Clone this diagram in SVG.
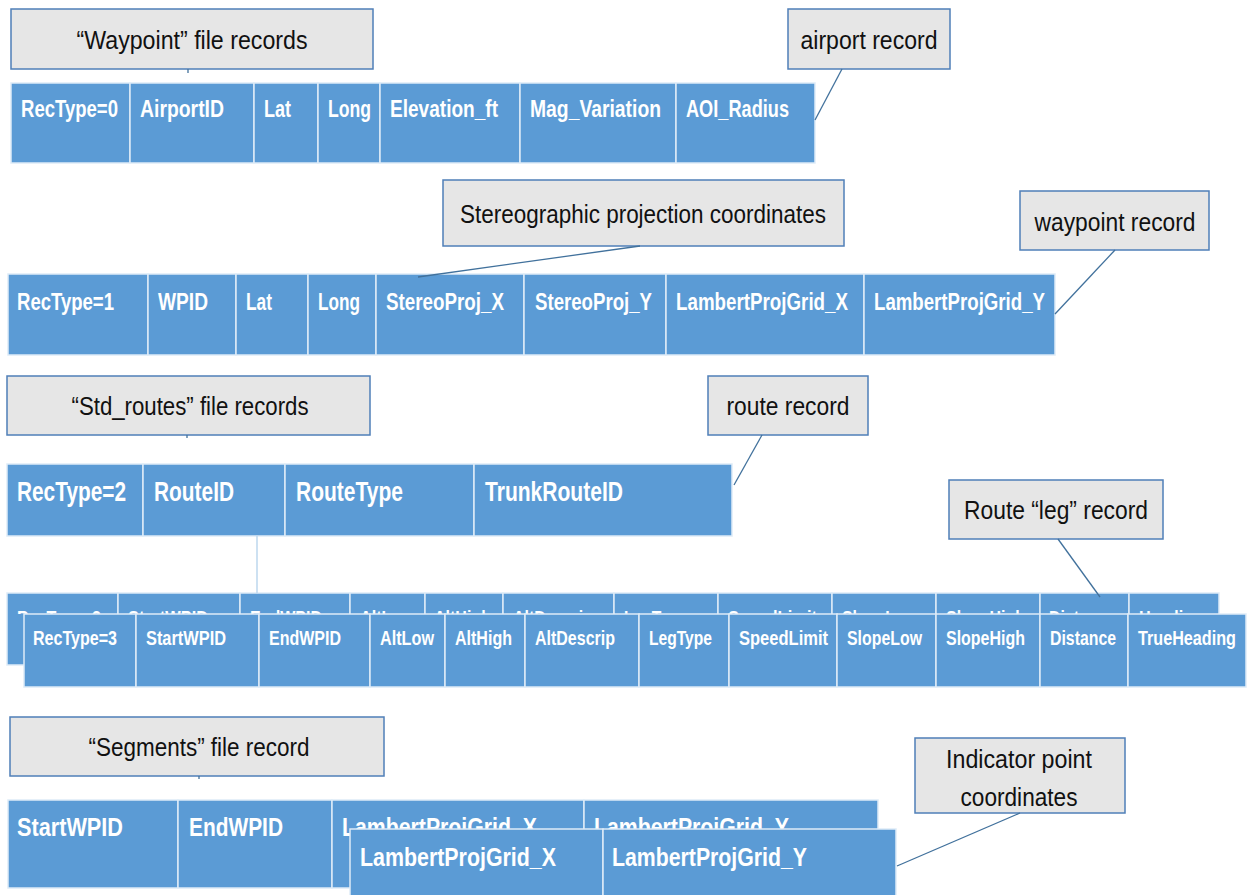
<svg xmlns="http://www.w3.org/2000/svg" width="1247" height="895" viewBox="0 0 1247 895">
  <style>
    .cell { fill: #5b9bd5; stroke: #deebf7; stroke-width: 1.5; }
    .ct { font-family: "Liberation Sans", Arial, sans-serif; font-weight: bold; fill: #ffffff; }
    .r1 { font-size: 24px; }
    .r3 { font-size: 28px; }
    .r4 { font-size: 21px; }
    .r5 { font-size: 26px; }
    .note { fill: #e6e6e6; stroke: #4f7fb8; stroke-width: 1.5; }
    .nt { font-family: "Liberation Sans", Arial, sans-serif; font-size: 26px; fill: #111111; text-anchor: middle; }
    .lead { stroke: #41719c; stroke-width: 1.3; fill: none; }
  </style>
  <defs>
    <!-- the rear leg row only shows the strip above the front row -->
    <clipPath id="legBackClip"><rect x="0" y="590" width="1247" height="24"/></clipPath>
  </defs>

  <!-- Waypoint file: airport record (RecType=0) -->
  <g id="rec-airport">
    <rect class="cell" x="11" y="83" width="119" height="80"/>
    <rect class="cell" x="130" y="83" width="124" height="80"/>
    <rect class="cell" x="254" y="83" width="64" height="80"/>
    <rect class="cell" x="318" y="83" width="62" height="80"/>
    <rect class="cell" x="380" y="83" width="140" height="80"/>
    <rect class="cell" x="520" y="83" width="156" height="80"/>
    <rect class="cell" x="676" y="83" width="139" height="80"/>
    <g class="ct r1">
      <text x="21" y="117" textLength="97" lengthAdjust="spacingAndGlyphs">RecType=0</text>
      <text x="140" y="117" textLength="84" lengthAdjust="spacingAndGlyphs">AirportID</text>
      <text x="264" y="117" textLength="27" lengthAdjust="spacingAndGlyphs">Lat</text>
      <text x="328" y="117" textLength="43" lengthAdjust="spacingAndGlyphs">Long</text>
      <text x="390" y="117" textLength="108" lengthAdjust="spacingAndGlyphs">Elevation_ft</text>
      <text x="530" y="117" textLength="131" lengthAdjust="spacingAndGlyphs">Mag_Variation</text>
      <text x="686" y="117" textLength="103" lengthAdjust="spacingAndGlyphs">AOI_Radius</text>
    </g>
  </g>

  <!-- Waypoint file: waypoint record (RecType=1) -->
  <g id="rec-waypoint">
    <rect class="cell" x="8" y="274" width="140" height="81"/>
    <rect class="cell" x="148" y="274" width="88" height="81"/>
    <rect class="cell" x="236" y="274" width="72" height="81"/>
    <rect class="cell" x="308" y="274" width="68" height="81"/>
    <rect class="cell" x="376" y="274" width="148" height="81"/>
    <rect class="cell" x="524" y="274" width="142" height="81"/>
    <rect class="cell" x="666" y="274" width="198" height="81"/>
    <rect class="cell" x="864" y="274" width="191" height="81"/>
    <g class="ct r1">
      <text x="17" y="310" textLength="97" lengthAdjust="spacingAndGlyphs">RecType=1</text>
      <text x="158" y="310" textLength="50" lengthAdjust="spacingAndGlyphs">WPID</text>
      <text x="246" y="310" textLength="26" lengthAdjust="spacingAndGlyphs">Lat</text>
      <text x="318" y="310" textLength="42" lengthAdjust="spacingAndGlyphs">Long</text>
      <text x="386" y="310" textLength="118" lengthAdjust="spacingAndGlyphs">StereoProj_X</text>
      <text x="535" y="310" textLength="117" lengthAdjust="spacingAndGlyphs">StereoProj_Y</text>
      <text x="676" y="310" textLength="172" lengthAdjust="spacingAndGlyphs">LambertProjGrid_X</text>
      <text x="874" y="310" textLength="171" lengthAdjust="spacingAndGlyphs">LambertProjGrid_Y</text>
    </g>
  </g>

  <!-- Std_routes file: route record (RecType=2) -->
  <g id="rec-route">
    <rect class="cell" x="7" y="464" width="136" height="72"/>
    <rect class="cell" x="143" y="464" width="142" height="72"/>
    <rect class="cell" x="285" y="464" width="189" height="72"/>
    <rect class="cell" x="474" y="464" width="258" height="72"/>
    <g class="ct r3">
      <text x="17" y="501" textLength="109" lengthAdjust="spacingAndGlyphs">RecType=2</text>
      <text x="154" y="501" textLength="80" lengthAdjust="spacingAndGlyphs">RouteID</text>
      <text x="296" y="501" textLength="107" lengthAdjust="spacingAndGlyphs">RouteType</text>
      <text x="485" y="501" textLength="138" lengthAdjust="spacingAndGlyphs">TrunkRouteID</text>
    </g>
  </g>

  <!-- Std_routes file: leg record, rear copy -->
  <g id="rec-leg-back">
    <rect class="cell" x="7" y="593" width="111" height="72"/>
    <rect class="cell" x="118" y="593" width="122" height="72"/>
    <rect class="cell" x="240" y="593" width="110" height="72"/>
    <rect class="cell" x="350" y="593" width="75" height="72"/>
    <rect class="cell" x="425" y="593" width="78" height="72"/>
    <rect class="cell" x="503" y="593" width="111" height="72"/>
    <rect class="cell" x="614" y="593" width="104" height="72"/>
    <rect class="cell" x="718" y="593" width="114" height="72"/>
    <rect class="cell" x="832" y="593" width="104" height="72"/>
    <rect class="cell" x="936" y="593" width="104" height="72"/>
    <rect class="cell" x="1040" y="593" width="89" height="72"/>
    <rect class="cell" x="1129" y="593" width="90" height="72"/>
    <g class="ct r4" clip-path="url(#legBackClip)">
      <text x="17" y="625" textLength="84" lengthAdjust="spacingAndGlyphs">RecType=3</text>
      <text x="128" y="625" textLength="80" lengthAdjust="spacingAndGlyphs">StartWPID</text>
      <text x="250" y="625" textLength="72" lengthAdjust="spacingAndGlyphs">EndWPID</text>
      <text x="360" y="625" textLength="54" lengthAdjust="spacingAndGlyphs">AltLow</text>
      <text x="434" y="625" textLength="57" lengthAdjust="spacingAndGlyphs">AltHigh</text>
      <text x="513" y="625" textLength="80" lengthAdjust="spacingAndGlyphs">AltDescrip</text>
      <text x="624" y="625" textLength="63" lengthAdjust="spacingAndGlyphs">LegType</text>
      <text x="728" y="625" textLength="89" lengthAdjust="spacingAndGlyphs">SpeedLimit</text>
      <text x="842" y="625" textLength="75" lengthAdjust="spacingAndGlyphs">SlopeLow</text>
      <text x="946" y="625" textLength="79" lengthAdjust="spacingAndGlyphs">SlopeHigh</text>
      <text x="1049" y="625" textLength="66" lengthAdjust="spacingAndGlyphs">Distance</text>
      <text x="1139" y="625" textLength="64" lengthAdjust="spacingAndGlyphs">Heading</text>
    </g>
  </g>

  <!-- Std_routes file: leg record (RecType=3) -->
  <g id="rec-leg">
    <rect class="cell" x="24" y="614" width="112" height="73"/>
    <rect class="cell" x="136" y="614" width="123" height="73"/>
    <rect class="cell" x="259" y="614" width="111" height="73"/>
    <rect class="cell" x="370" y="614" width="75" height="73"/>
    <rect class="cell" x="445" y="614" width="80" height="73"/>
    <rect class="cell" x="525" y="614" width="114" height="73"/>
    <rect class="cell" x="639" y="614" width="90" height="73"/>
    <rect class="cell" x="729" y="614" width="108" height="73"/>
    <rect class="cell" x="837" y="614" width="99" height="73"/>
    <rect class="cell" x="936" y="614" width="104" height="73"/>
    <rect class="cell" x="1040" y="614" width="88" height="73"/>
    <rect class="cell" x="1128" y="614" width="118" height="73"/>
    <g class="ct r4">
      <text x="33" y="645" textLength="84" lengthAdjust="spacingAndGlyphs">RecType=3</text>
      <text x="146" y="645" textLength="80" lengthAdjust="spacingAndGlyphs">StartWPID</text>
      <text x="269" y="645" textLength="72" lengthAdjust="spacingAndGlyphs">EndWPID</text>
      <text x="380" y="645" textLength="54" lengthAdjust="spacingAndGlyphs">AltLow</text>
      <text x="455" y="645" textLength="57" lengthAdjust="spacingAndGlyphs">AltHigh</text>
      <text x="535" y="645" textLength="80" lengthAdjust="spacingAndGlyphs">AltDescrip</text>
      <text x="649" y="645" textLength="63" lengthAdjust="spacingAndGlyphs">LegType</text>
      <text x="739" y="645" textLength="89" lengthAdjust="spacingAndGlyphs">SpeedLimit</text>
      <text x="847" y="645" textLength="75" lengthAdjust="spacingAndGlyphs">SlopeLow</text>
      <text x="946" y="645" textLength="79" lengthAdjust="spacingAndGlyphs">SlopeHigh</text>
      <text x="1050" y="645" textLength="66" lengthAdjust="spacingAndGlyphs">Distance</text>
      <text x="1138" y="645" textLength="98" lengthAdjust="spacingAndGlyphs">TrueHeading</text>
    </g>
  </g>

  <!-- Segments file record, rear copy -->
  <g id="rec-segment-back">
    <rect class="cell" x="8" y="800" width="170" height="88"/>
    <rect class="cell" x="178" y="800" width="154" height="88"/>
    <rect class="cell" x="332" y="800" width="252" height="88"/>
    <rect class="cell" x="584" y="800" width="294" height="88"/>
    <g class="ct r5">
      <text x="17" y="836" textLength="106" lengthAdjust="spacingAndGlyphs">StartWPID</text>
      <text x="189" y="836" textLength="94" lengthAdjust="spacingAndGlyphs">EndWPID</text>
      <text x="342" y="836" textLength="195" lengthAdjust="spacingAndGlyphs">LambertProjGrid_X</text>
      <text x="594" y="836" textLength="195" lengthAdjust="spacingAndGlyphs">LambertProjGrid_Y</text>
    </g>
  </g>

  <!-- Segments file record, indicator point columns -->
  <g id="rec-segment">
    <rect class="cell" x="350" y="829" width="253" height="70"/>
    <rect class="cell" x="603" y="829" width="293" height="70"/>
    <g class="ct r5">
      <text x="360" y="866" textLength="196" lengthAdjust="spacingAndGlyphs">LambertProjGrid_X</text>
      <text x="612" y="866" textLength="195" lengthAdjust="spacingAndGlyphs">LambertProjGrid_Y</text>
    </g>
  </g>

  <!-- Callouts -->
  <g id="note-waypoint-file">
    <rect class="note" x="11" y="9" width="362" height="60"/>
    <text class="nt" x="192" y="49" textLength="231" lengthAdjust="spacingAndGlyphs">“Waypoint” file records</text>
  </g>
  <g id="note-airport">
    <rect class="note" x="788" y="9" width="162" height="60"/>
    <text class="nt" x="869" y="49" textLength="137" lengthAdjust="spacingAndGlyphs">airport record</text>
  </g>
  <g id="note-stereo">
    <rect class="note" x="443" y="180" width="401" height="66"/>
    <text class="nt" x="643" y="223" textLength="366" lengthAdjust="spacingAndGlyphs">Stereographic projection coordinates</text>
  </g>
  <g id="note-waypoint">
    <rect class="note" x="1020" y="191" width="189" height="59"/>
    <text class="nt" x="1115" y="231" textLength="161" lengthAdjust="spacingAndGlyphs">waypoint record</text>
  </g>
  <g id="note-routes-file">
    <rect class="note" x="7" y="376" width="363" height="59"/>
    <text class="nt" x="190" y="415" textLength="237" lengthAdjust="spacingAndGlyphs">“Std_routes” file records</text>
  </g>
  <g id="note-route">
    <rect class="note" x="708" y="376" width="160" height="59"/>
    <text class="nt" x="788" y="415" textLength="123" lengthAdjust="spacingAndGlyphs">route record</text>
  </g>
  <g id="note-leg">
    <rect class="note" x="949" y="480" width="214" height="59"/>
    <text class="nt" x="1056" y="519" textLength="184" lengthAdjust="spacingAndGlyphs">Route “leg” record</text>
  </g>
  <g id="note-segments-file">
    <rect class="note" x="10" y="717" width="374" height="59"/>
    <text class="nt" x="199" y="756" textLength="221" lengthAdjust="spacingAndGlyphs">“Segments” file record</text>
  </g>
  <g id="note-indicator">
    <rect class="note" x="915" y="738" width="210" height="75"/>
    <text class="nt" x="1019" y="768" textLength="146" lengthAdjust="spacingAndGlyphs">Indicator point</text>
    <text class="nt" x="1019" y="806" textLength="117" lengthAdjust="spacingAndGlyphs">coordinates</text>
  </g>

  <!-- Callout leaders -->
  <g id="connectors">
    <line class="lead" x1="188" y1="69" x2="188" y2="73"/>
    <line class="lead" x1="842" y1="69" x2="815" y2="120"/>
    <line class="lead" x1="640" y1="246" x2="418" y2="277"/>
    <line class="lead" x1="1115" y1="250" x2="1055" y2="314"/>
    <line class="lead" x1="187" y1="435" x2="187" y2="438"/>
    <line class="lead" x1="762" y1="435" x2="734" y2="485"/>
    <line class="lead" x1="1058" y1="539" x2="1100" y2="597"/>
    <line class="lead" x1="199" y1="776" x2="199" y2="779"/>
    <line class="lead" x1="1020" y1="813" x2="897" y2="866"/>
    <line x1="257" y1="536" x2="257" y2="593" stroke="#bdd7ee" stroke-width="1.5"/>
  </g>
</svg>
